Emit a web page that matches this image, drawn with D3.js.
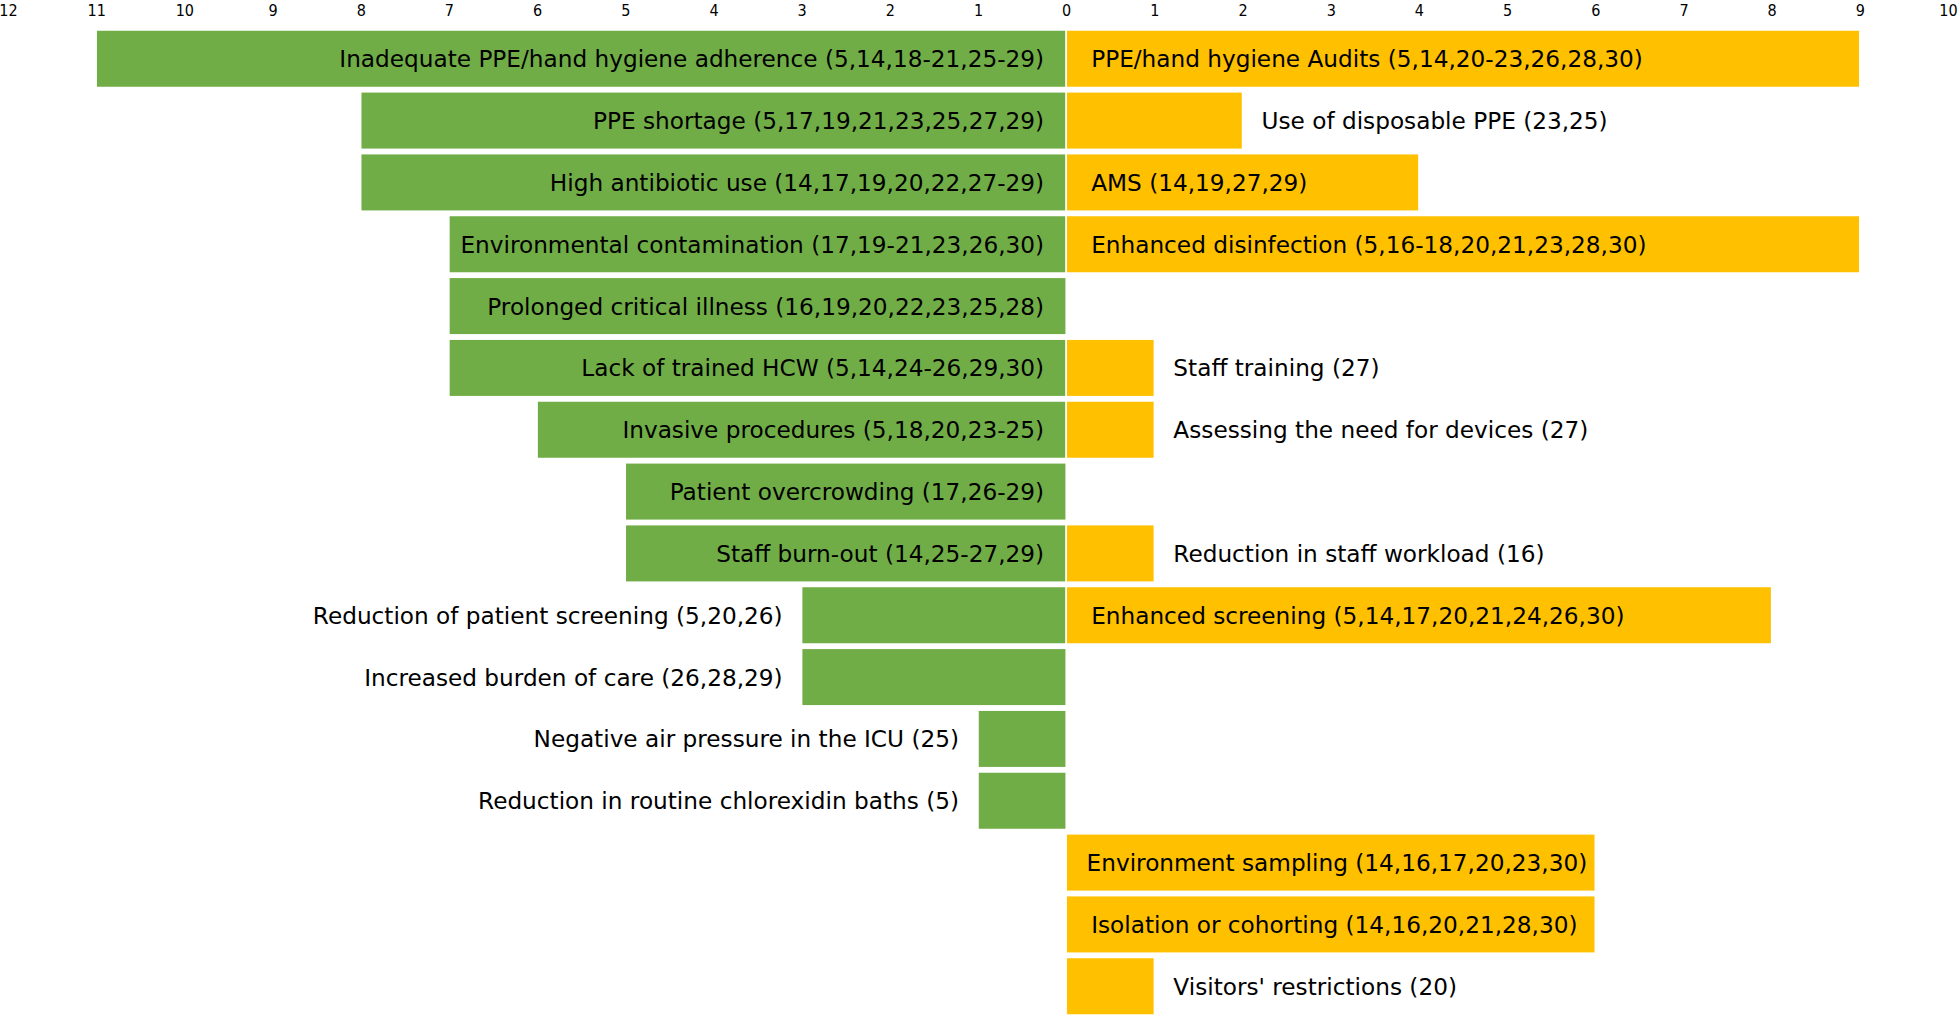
<!DOCTYPE html>
<html>
<head>
<meta charset="utf-8">
<script src="https://cdn.jsdelivr.net/npm/d3@7"></script>
<style>
  html, body { margin: 0; padding: 0; background: #fff; }
  svg { display: block; }
  text { font-family: "DejaVu Sans", sans-serif; fill: #000; }
</style>
</head>
<body>
<svg id="chart" width="1960" height="1016"></svg>
<script>
// ---- Data ----
const factorLabels = [
  "Inadequate PPE/hand hygiene adherence (5,14,18-21,25-29)",
  "PPE shortage (5,17,19,21,23,25,27,29)",
  "High antibiotic use (14,17,19,20,22,27-29)",
  "Environmental contamination (17,19-21,23,26,30)",
  "Prolonged critical illness (16,19,20,22,23,25,28)",
  "Lack of trained HCW (5,14,24-26,29,30)",
  "Invasive procedures (5,18,20,23-25)",
  "Patient overcrowding (17,26-29)",
  "Staff burn-out (14,25-27,29)",
  "Reduction of patient screening (5,20,26)",
  "Increased burden of care (26,28,29)",
  "Negative air pressure in the ICU (25)",
  "Reduction in routine chlorexidin baths (5)",
  "", "", ""
];
const factorValues = [11, 8, 8, 7, 7, 7, 6, 5, 5, 3, 3, 1, 1, 0, 0, 0];

const measureLabels = [
  "PPE/hand hygiene Audits (5,14,20-23,26,28,30)",
  "Use of disposable PPE (23,25)",
  "AMS (14,19,27,29)",
  "Enhanced disinfection (5,16-18,20,21,23,28,30)",
  "",
  "Staff training (27)",
  "Assessing the need for devices (27)",
  "",
  "Reduction in staff workload (16)",
  "Enhanced screening (5,14,17,20,21,24,26,30)",
  "", "", "",
  "Environment sampling (14,16,17,20,23,30)",
  "Isolation or cohorting (14,16,20,21,28,30)",
  "Visitors' restrictions (20)"
];
const measureValues = [9, 2, 4, 9, 0, 1, 1, 0, 1, 8, 0, 0, 0, 6, 6, 1];

const tickValues = [-12, -11, -10, -9, -8, -7, -6, -5, -4, -3, -2, -1, 0, 1, 2, 3, 4, 5, 6, 7, 8, 9, 10];

// ---- Layout ----
const svg = d3.select("#chart");
const rows = d3.range(factorValues.length);

const x = d3.scaleLinear().domain([-12, 10]).range([8, 1948]);
const y = d3.scaleBand().domain(rows).range([30, 1015]).paddingInner(0.07).paddingOuter(0);

const green = "#70AD47", yellow = "#FFC000";
const fontSize = 23.2;
const pad = 22;
const padOut = 19;

// Top axis (labels only)
const axis = d3.axisTop(x).tickValues(tickValues).tickSize(0).tickPadding(0)
  .tickFormat(d => String(Math.abs(d)));
const gAxis = svg.append("g").attr("transform", "translate(0,16)").call(axis);
gAxis.select(".domain").remove();
gAxis.selectAll("text").attr("font-size", 16).attr("dy", 0)
  .style("font-family", '"DejaVu Sans Condensed", "DejaVu Sans", sans-serif')
  .style("font-stretch", "condensed");

// Bars
const gBars = svg.append("g");
gBars.selectAll("rect.left").data(rows.filter(i => factorValues[i] > 0)).join("rect")
  .attr("class", "left")
  .attr("x", i => x(-factorValues[i]))
  .attr("width", i => x(0) - x(-factorValues[i]))
  .attr("y", i => y(i))
  .attr("height", y.bandwidth())
  .attr("fill", green)
  .attr("stroke", "#fff").attr("stroke-width", 1.5);

gBars.selectAll("rect.right").data(rows.filter(i => measureValues[i] > 0)).join("rect")
  .attr("class", "right")
  .attr("x", x(0))
  .attr("width", i => x(measureValues[i]) - x(0))
  .attr("y", i => y(i))
  .attr("height", y.bandwidth())
  .attr("fill", yellow)
  .attr("stroke", "#fff").attr("stroke-width", 1.5);

// Labels: inside the bar when it fits, otherwise just beyond its end
const gText = svg.append("g");
rows.forEach(i => {
  const cy = y(i) + y.bandwidth() / 2;
  if (factorLabels[i]) {
    const t = gText.append("text").attr("font-size", fontSize)
      .attr("dominant-baseline", "central").attr("y", cy)
      .text(factorLabels[i]);
    const w = t.node().getComputedTextLength();
    const barW = x(0) - x(-factorValues[i]);
    if (w + pad + 6 <= barW) {
      t.attr("x", x(0) - pad).attr("text-anchor", "end");
    } else {
      t.attr("x", x(-factorValues[i]) - padOut).attr("text-anchor", "end");
    }
  }
  if (measureLabels[i]) {
    const t = gText.append("text").attr("font-size", fontSize)
      .attr("dominant-baseline", "central").attr("y", cy)
      .text(measureLabels[i]);
    const w = t.node().getComputedTextLength();
    const barW = x(measureValues[i]) - x(0);
    if (w + pad + 6 <= barW) {
      const startPad = Math.min(pad + 3, barW - w - 8);
      t.attr("x", x(0) + startPad).attr("text-anchor", "start");
    } else {
      t.attr("x", x(measureValues[i]) + padOut).attr("text-anchor", "start");
    }
  }
});
</script>
</body>
</html>
